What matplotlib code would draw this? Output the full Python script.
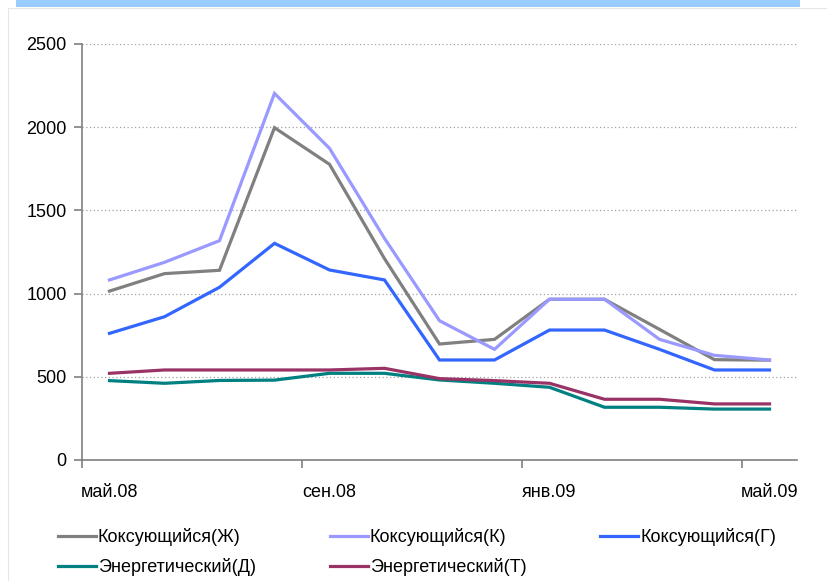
import numpy as np
import matplotlib.pyplot as plt
from matplotlib.patches import Rectangle

plt.rcParams['font.family'] = ['Liberation Sans', 'DejaVu Sans']

### DATA
months = ['май.08', 'июн.08', 'июл.08', 'авг.08', 'сен.08', 'окт.08', 'ноя.08',
          'дек.08', 'янв.09', 'фев.09', 'мар.09', 'апр.09', 'май.09']
koks_zh = [1015, 1120, 1140, 1997, 1777, 1210, 697, 725, 966, 966, 785, 603, 600]
koks_k = [1082, 1188, 1318, 2203, 1873, 1332, 837, 665, 966, 966, 725, 629, 601]
koks_g = [761, 861, 1038, 1302, 1142, 1082, 601, 601, 781, 781, 665, 541, 541]
energ_d = [477, 461, 478, 480, 521, 521, 481, 461, 437, 317, 317, 306, 306]
energ_t = [521, 541, 541, 541, 541, 551, 489, 477, 461, 365, 365, 337, 337]

names = ['Коксующийся(Ж)', 'Коксующийся(К)', 'Коксующийся(Г)',
         'Энергетический(Д)', 'Энергетический(Т)']
colors = ['#808080', '#9999FF', '#3366FF', '#008080', '#993366']
series = [koks_zh, koks_k, koks_g, energ_d, energ_t]

### FIGURE
fig = plt.figure(figsize=(8.28, 5.81), dpi=100)
ax = fig.add_axes([82/828, 1-460/581, 715/828, 416/581])

# faint frame and blue strip at the top
fig.patches.append(Rectangle((8/828, -0.1), 1.0, 1-8/581+0.1, transform=fig.transFigure,
                             fill=False, edgecolor='#E6E6E6', lw=0.8))
fig.patches.append(Rectangle((16/828, 1-7/581), 784/828, 7/581, transform=fig.transFigure,
                             facecolor='#99CCFF', edgecolor='none'))

x = np.arange(len(months))
lines = []
for s, c, n in zip(series, colors, names):
    ln, = ax.plot(x, s, color=c, lw=2.3, label=n, solid_joinstyle='miter')
    lines.append(ln)

ax.set_xlim(-0.5, len(months) - 0.5)
ax.set_ylim(0, 2500)
ax.set_yticks(range(0, 2501, 500))
ax.yaxis.grid(True, ls=(0, (1, 2)), color='#A0A0A0', lw=0.9)
ax.set_axisbelow(True)

# labels every 4th month, tick marks between categories
ax.set_xticks(x[::4])
ax.set_xticklabels(months[::4])
ax.set_xticks(np.arange(-0.5, len(months), 4), minor=True)
ax.tick_params(axis='x', which='major', length=0, pad=17)
ax.tick_params(axis='x', which='minor', length=6, color='#808080', width=1.2)
ax.tick_params(axis='y', length=6, color='#808080', width=1.2, pad=5)
ax.tick_params(labelsize=13)

for sp in ['top', 'right']:
    ax.spines[sp].set_visible(False)
for sp in ['left', 'bottom']:
    ax.spines[sp].set_color('#808080')
    ax.spines[sp].set_linewidth(1.2)

# legend: row-major order Ж К Г / Д Т
order = [0, 3, 1, 4, 2]
fig.legend([lines[i] for i in order], [names[i] for i in order], ncol=3,
           loc='upper left', bbox_to_anchor=(42/828, 1-512/581), frameon=False,
           fontsize=13, handlelength=2.1, handletextpad=0.1, columnspacing=4.1,
           labelspacing=0.65)

plt.savefig('out.png', dpi=100)
